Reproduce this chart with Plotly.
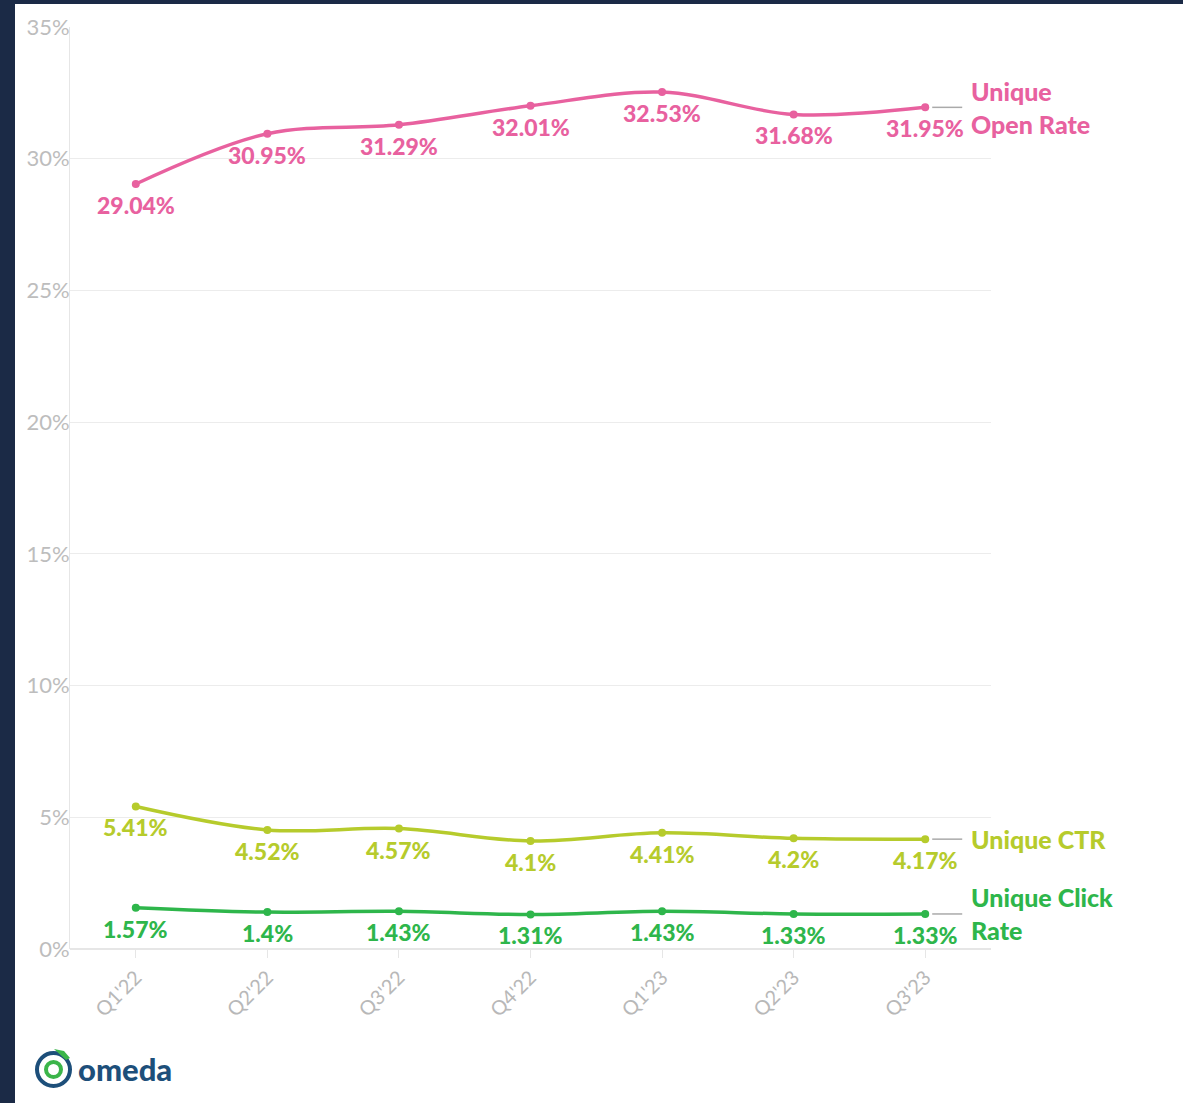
import plotly.graph_objects as go

categories = ["Q1'22", "Q2'22", "Q3'22", "Q4'22", "Q1'23", "Q2'23", "Q3'23"]
open_rate = [29.04, 30.95, 31.29, 32.01, 32.53, 31.68, 31.95]
ctr = [5.41, 4.52, 4.57, 4.1, 4.41, 4.2, 4.17]
click_rate = [1.57, 1.4, 1.43, 1.31, 1.43, 1.33, 1.33]
series_names = ["Unique<br>Open Rate", "Unique CTR", "Unique Click<br>Rate"]
y_ticks = [0, 5, 10, 15, 20, 25, 30, 35]

colors = ["#e8619f", "#b6cb2c", "#2eb64b"]
all_series = [open_rate, ctr, click_rate]

W, H = 1183, 1103
ml, mr, mt, mb = 70, 192, 27, 154
pw = W - ml - mr
ph = H - mt - mb
step = pw / len(categories)

FONT = "Lato"
fig = go.Figure()
xi = list(range(len(categories)))
annotations = []
for vals, col in zip(all_series, colors):
    fig.add_trace(go.Scatter(
        x=xi, y=vals, mode="lines+markers",
        line=dict(color=col, width=3.5, shape="spline", smoothing=1),
        marker=dict(color=col, size=8),
        cliponaxis=False, showlegend=False, hoverinfo="skip",
    ))
    for x, v in zip(xi, vals):
        annotations.append(dict(x=x, y=v, xref="x", yref="y",
                                text=f"{v:g}%", showarrow=False,
                                xanchor="center", yanchor="middle", yshift=-21,
                                font=dict(family=FONT, size=23, color=col, weight=900)))

last = len(categories) - 1
lx = lambda px: (px - ml) / pw
ly = lambda py: (H - mb - py) / ph
shapes = [
    dict(type="rect", xref="paper", yref="paper",
         x0=lx(15), x1=lx(W + 5), y0=ly(H + 5), y1=ly(4),
         fillcolor="white", line=dict(width=0), layer="below"),
]
for vals, col, name in zip(all_series, colors, series_names):
    shapes.append(dict(type="line", xref="x", yref="y",
                       x0=last + 7 / step, x1=last + 37 / step,
                       y0=vals[-1], y1=vals[-1],
                       line=dict(color="#aaaaaa", width=1.5)))
    annotations.append(dict(x=last + 44 / step, y=vals[-1], xref="x", yref="y",
                            text=name, showarrow=False,
                            xanchor="left", yanchor="middle", align="left",
                            font=dict(family=FONT, size=25, color=col, weight=900)))

# logo
shapes.append(dict(type="circle", xref="paper", yref="paper",
                   x0=lx(37), x1=lx(70), y0=ly(1086), y1=ly(1053),
                   line=dict(color="#1d4f7a", width=4)))
shapes.append(dict(type="circle", xref="paper", yref="paper",
                   x0=lx(46), x1=lx(61), y0=ly(1077), y1=ly(1062),
                   line=dict(color="#3bb54a", width=4)))
shapes.append(dict(type="path", xref="paper", yref="paper",
                   path=f"M {lx(54)} {ly(1049)} L {lx(64)} {ly(1051)} L {lx(70)} {ly(1058)} L {lx(66)} {ly(1060)} Z",
                   fillcolor="#3bb54a", line=dict(width=0)))
annotations.append(dict(x=lx(76), y=ly(1069), xref="paper", yref="paper",
                        text="omeda", showarrow=False, xanchor="left",
                        yanchor="middle", font=dict(family="Lato", size=31, color="#1d4f7a", weight=900)))

fig.update_layout(
    width=W, height=H,
    margin=dict(l=ml, r=mr, t=mt, b=mb, pad=0),
    paper_bgcolor="#1b2a46", plot_bgcolor="white",
    shapes=shapes, annotations=annotations,
    xaxis=dict(range=[-0.5, last + 0.5], tickmode="array", tickvals=xi,
               ticktext=categories, tickangle=-45, showgrid=False,
               ticks="outside", ticklen=8, tickcolor="#e6e6e6",
               tickfont=dict(family=FONT, size=20, color="#b8b8b8"),
               showline=False, zeroline=False),
    yaxis=dict(range=[0, 35], tickvals=y_ticks,
               ticktext=[f"{t}%" for t in y_ticks],
               showgrid=True, gridcolor="#ececec", gridwidth=1,
               showline=True, linecolor="#e6e6e6", linewidth=1,
               zeroline=True, zerolinecolor="#e6e6e6", zerolinewidth=2,
               ticks="", tickfont=dict(family=FONT, size=22, color="#bdbdbd"),
               ticklabelstandoff=-5),
)
fig.write_html("out.html", config={"displayModeBar": False},
               post_script="document.body.style.margin='0';document.body.style.background='#1b2a46';")
